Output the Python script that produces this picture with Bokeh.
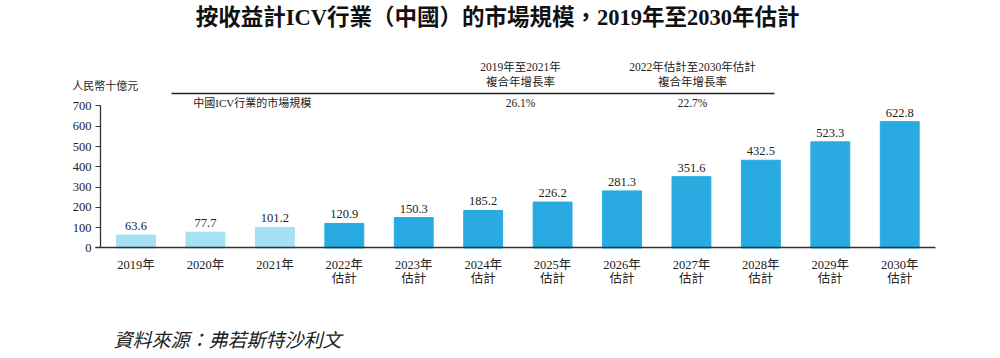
from bokeh.plotting import figure
from bokeh.models import FixedTicker, ColumnDataSource, Range1d
from bokeh.core.properties import value
from bokeh.embed import file_html
from bokeh.resources import INLINE

years = ["2019年", "2020年", "2021年", "2022年\n估計", "2023年\n估計", "2024年\n估計",
         "2025年\n估計", "2026年\n估計", "2027年\n估計", "2028年\n估計", "2029年\n估計", "2030年\n估計"]
market = [63.6, 77.7, 101.2, 120.9, 150.3, 185.2, 226.2, 281.3, 351.6, 432.5, 523.3, 622.8]
y_ticks = [0, 100, 200, 300, 400, 500, 600, 700]
cagr_periods = ["2019年至2021年", "2022年估計至2030年估計"]
cagr_values = ["26.1%", "22.7%"]

FONT = "'Liberation Serif', 'Noto Sans CJK TC', serif"
LIGHT = "#a7dff4"
DARK = "#29abe2"

xs = list(range(len(years)))
colors = [LIGHT if i < 3 else DARK for i in xs]
src = ColumnDataSource(dict(x=xs, top=market, color=colors,
                            label=["%.1f" % v for v in market]))

p = figure(width=984, height=350, output_backend="svg", toolbar_location=None,
           x_range=Range1d(-1.952, 12.221), y_range=Range1d(-505.2, 1219.8),
           min_border_left=0, min_border_right=0, min_border_top=0, min_border_bottom=0)
p.outline_line_color = None
p.grid.visible = False
p.background_fill_color = "white"
p.border_fill_color = "white"

p.vbar(x="x", top="top", width=0.56, bottom=0, color="color", source=src)
p.text(x="x", y="top", text="label", source=src, text_align="center",
       text_baseline="bottom", y_offset=-5, text_font=value(FONT),
       text_font_size="12.5px", text_color="#222222")

# axes
xa = p.xaxis[0]
xa.fixed_location = 0
xa.ticker = FixedTicker(ticks=xs)
xa.major_label_overrides = {i: years[i] for i in xs}
xa.major_tick_line_color = None
xa.minor_tick_line_color = None
xa.axis_line_color = "#333333"
xa.axis_line_width = 1.3
xa.bounds = (-0.583, 11.515)
xa.major_label_text_font = FONT
xa.major_label_text_font_size = "12.5px"
xa.major_label_text_color = "#222222"
xa.major_label_text_line_height = 1.0
xa.major_label_standoff = 4

ya = p.yaxis[0]
ya.fixed_location = -0.511
ya.ticker = FixedTicker(ticks=y_ticks)
ya.bounds = (0, 700)
ya.axis_line_color = "#333333"
ya.axis_line_width = 1.3
ya.major_tick_line_color = "#333333"
ya.major_tick_out = 5
ya.major_tick_in = 0
ya.minor_tick_line_color = None
ya.major_label_text_font = FONT
ya.major_label_text_font_size = "12.5px"
ya.major_label_text_color = "#222222"
ya.major_label_standoff = 4

# title
p.text(x=[5.207], y=[1136], text=["按收益計ICV行業（中國）的市場規模，2019年至2030年估計"],
       text_align="center", text_baseline="middle", text_font=value(FONT),
       text_font_size="22.5px", text_font_style="bold", text_color="#111111")

# unit
p.text(x=[-0.92], y=[796], text=["人民幣十億元"], text_align="left", text_baseline="middle",
       text_font=value(FONT), text_font_size="11px", text_color="#222222")

# header line and series label
p.segment(x0=[0.511], y0=[761.5], x1=[9.196], y1=[761.5], line_color="#222222", line_width=1.3)
p.text(x=[0.824], y=[717], text=["中國ICV行業的市場規模"], text_align="left", text_baseline="middle",
       text_font=value(FONT), text_font_size="11px", text_color="#222222")

# CAGR headers
p.text(x=[5.538, 8.015], y=[889.6, 889.6], text=cagr_periods, text_align="center",
       text_baseline="middle", text_font=value(FONT), text_font_size="11.5px", text_color="#222222")
p.text(x=[5.538, 8.015], y=[815.7, 815.7], text=["複合年增長率", "複合年增長率"], text_align="center",
       text_baseline="middle", text_font=value(FONT), text_font_size="11.5px", text_color="#222222")
p.text(x=[5.538, 8.015], y=[712.2, 712.2], text=cagr_values, text_align="center",
       text_baseline="middle", text_font=value(FONT), text_font_size="11.5px", text_color="#222222")

# source
p.text(x=[-0.324], y=[-455.9], text=["資料來源：弗若斯特沙利文"], text_align="left",
       text_baseline="middle", text_font=value(FONT), text_font_size="19px",
       text_font_style="italic", text_color="#222222")

open("out.html", "w").write(file_html(p, INLINE))
